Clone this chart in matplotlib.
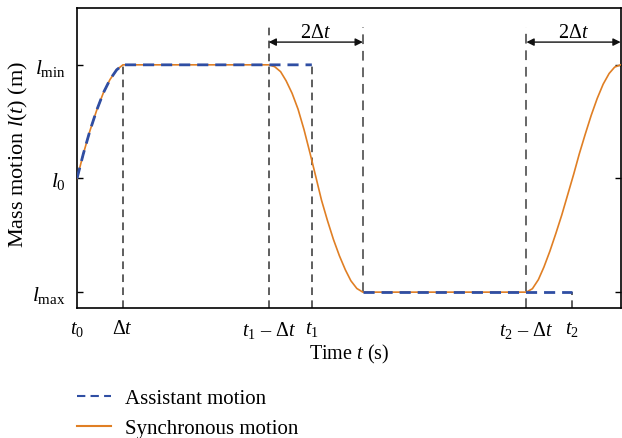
import matplotlib
matplotlib.use('Agg')
import matplotlib.pyplot as plt
from matplotlib.lines import Line2D

plt.rcParams['font.family'] = ['Liberation Serif', 'DejaVu Serif']
plt.rcParams['mathtext.fontset'] = 'custom'
plt.rcParams['mathtext.rm'] = 'Liberation Serif'
plt.rcParams['mathtext.it'] = 'Liberation Serif:italic'
plt.rcParams['mathtext.bf'] = 'Liberation Serif:bold'

# Ключевые моменты времени (в единицах Δt)
t0 = 0.0
dt = 1.0
t1_minus = 4.17
t1 = 5.11
t1_plus = 6.22
t2_minus = 9.78
t2 = 10.78
t_end = 11.83

# Уровни l
l_max = 0.0
l_0 = 0.5
l_min = 1.0

# Начальный подъём (общий для обоих движений)
rise_t = [0.0, 0.137, 0.283, 0.428, 0.572, 0.717, 0.863, 1.0]
rise_l = [0.5, 0.608, 0.711, 0.800, 0.876, 0.935, 0.978, 1.0]

# Спуск синхронного движения
fall_t = [4.17, 4.30, 4.43, 4.55, 4.68, 4.81, 4.94, 5.07, 5.20, 5.32, 5.45,
          5.58, 5.71, 5.84, 5.96, 6.09, 6.22]
fall_l = [1.0, 0.992, 0.970, 0.930, 0.875, 0.805, 0.715, 0.612, 0.505, 0.405,
          0.315, 0.232, 0.160, 0.098, 0.050, 0.016, 0.0]

# Подъём синхронного движения
up_t = [9.78, 9.91, 10.04, 10.16, 10.29, 10.42, 10.55, 10.68, 10.81, 10.93,
        11.06, 11.19, 11.32, 11.45, 11.58, 11.70, 11.83]
up_l = [0.0, 0.015, 0.055, 0.110, 0.180, 0.258, 0.340, 0.430, 0.520, 0.608,
        0.695, 0.778, 0.852, 0.915, 0.962, 0.990, 1.0]

x_tick_labels = [r'$t_0$', r'$\Delta t$', r'$t_1$ – $\Delta t$', r'$t_1$',
                 r'$t_2$ – $\Delta t$', r'$t_2$']
y_tick_labels = [r'$l_{\mathrm{max}}$', r'$l_0$', r'$l_{\mathrm{min}}$']

orange = '#e07f24'
blue = '#2f4ea3'
fs = 14.5

fig = plt.figure(figsize=(6.22, 4.39), dpi=100)
ax = fig.add_axes([0.1238, 0.296, 0.874, 0.6835])

# Синхронное движение
sync_t = rise_t + fall_t + up_t
sync_l = rise_l + fall_l + up_l
ax.plot(sync_t, sync_l, color=orange, lw=1.2, zorder=3)

# Вспомогательное движение
ax.plot(rise_t + [t1], rise_l + [l_min], color=blue, lw=2, ls=(0, (4, 2.5)), zorder=4)
ax.plot([t1_plus, t2], [l_max, l_max], color=blue, lw=2, ls=(0, (4, 2.5)), zorder=4)

# Вертикальные пунктиры
top_y = 1.167
dark = '#333333'
grey = '#666666'
ax.plot([dt, dt], [-0.07, l_min], color=dark, lw=1.1, ls=(0, (5, 3.5)), zorder=2)
ax.plot([t1_minus, t1_minus], [-0.07, top_y], color=dark, lw=1.1, ls=(0, (5, 3.5)), zorder=2)
ax.plot([t1, t1], [-0.07, l_min], color=dark, lw=1.1, ls=(0, (5, 3.5)), zorder=2)
ax.plot([t1_plus, t1_plus], [l_max, top_y], color=grey, lw=1.4, ls=(0, (5, 3.5)), zorder=2)
ax.plot([t2_minus, t2_minus], [-0.07, top_y], color=grey, lw=1.4, ls=(0, (5, 3.5)), zorder=2)
ax.plot([t2, t2], [-0.07, l_max], color=dark, lw=1.1, ls=(0, (5, 3.5)), zorder=2)

# Стрелки 2Δt
arrow_y = 1.10
for a, b in [(t1_minus, t1_plus), (t2_minus, t_end)]:
    ax.annotate('', xy=(b, arrow_y), xytext=(a, arrow_y),
                arrowprops=dict(arrowstyle='<|-|>', color='#111111', lw=1.0,
                                mutation_scale=11, shrinkA=0, shrinkB=0))
    ax.text((a + b) / 2, 1.142, r'2$\Delta t$', ha='center', va='center', fontsize=fs)

ax.set_xlim(t0, t_end)
ax.set_ylim(-0.07, 1.25)

ax.set_xticks([t0, dt, t1_minus, t1, t2_minus, t2])
ax.set_xticklabels(x_tick_labels, fontsize=fs)
ax.set_yticks([l_max, l_0, l_min])
ax.set_yticklabels(y_tick_labels, fontsize=fs + 1)
ax.tick_params(axis='x', length=0, pad=8)
ax.tick_params(axis='y', direction='in', length=4, width=1, left=True, right=True, pad=8)

for sp in ax.spines.values():
    sp.set_linewidth(1.2)

ax.set_xlabel(r'Time $t$ (s)', fontsize=fs, labelpad=1)
ax.set_ylabel(r'Mass motion $l$($t$) (m)', fontsize=16)
ax.yaxis.set_label_coords(-0.086, 0.515)

handles = [Line2D([], [], color=blue, lw=1.5, ls=(0, (4, 2.5))),
           Line2D([], [], color=orange, lw=1.5)]
fig.legend(handles, ['Assistant motion', 'Synchronous motion'],
           loc='upper left', bbox_to_anchor=(0.1238, 0.113), frameon=False,
           fontsize=15, handlelength=1.65, handletextpad=0.65, labelspacing=0.5,
           borderpad=0, borderaxespad=0)

fig.savefig('out.png', dpi=100)
